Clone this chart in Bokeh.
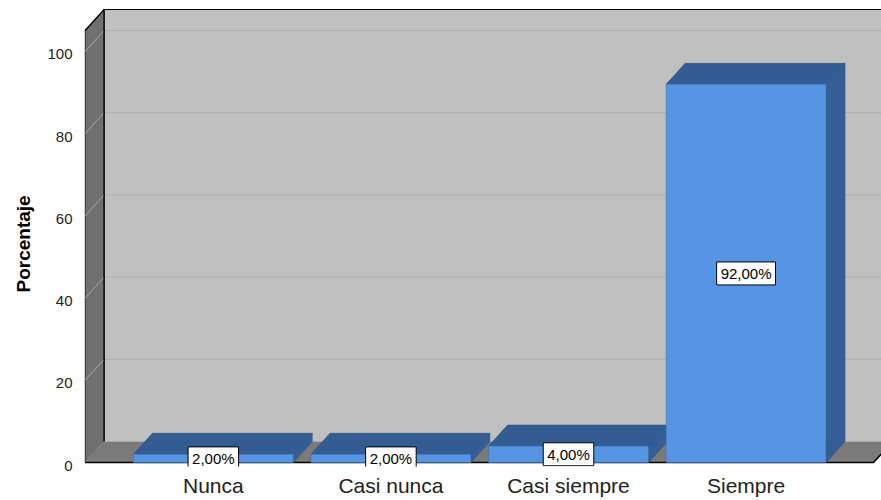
from bokeh.plotting import figure
from bokeh.models import Range1d, FixedTicker, Title
from bokeh.embed import file_html
from bokeh.resources import INLINE

# Data
categories = ["Nunca", "Casi nunca", "Casi siempre", "Siempre"]
percentages = [2.0, 2.0, 4.0, 92.0]
y_ticks = [0, 20, 40, 60, 80, 100]

# 3D box geometry (data units): depth offset of the back plane
DX = 0.107
DY = 5.11
BAR_HALF = 0.45
WALL_X = -0.722
FLOOR_END = 3.718
WALL_TOP = 105.1
TICK_SHIFT = 0.73  # tick labels sit slightly below their gridlines

FONT = "Liberation Sans"
TEXT_COLOR = "#222222"

Y0, Y1 = -0.97, 112.4
p = figure(width=881, height=500, output_backend="svg", toolbar_location=None,
           x_range=Range1d(-0.7255, 3.7627), y_range=Range1d(Y0, Y1),
           min_border_left=83, min_border_right=0, min_border_top=0,
           min_border_bottom=34)
p.extra_y_ranges = {"ticks": Range1d(Y0 + TICK_SHIFT, Y1 + TICK_SHIFT)}
p.outline_line_color = None
p.grid.visible = False
p.background_fill_color = "white"
p.border_fill_color = "white"

# back wall
bx0, bx1 = WALL_X + DX, FLOOR_END + DX
p.patch([bx0, bx1, bx1, bx0], [DY, DY, WALL_TOP + DY, WALL_TOP + DY],
        fill_color="#c0c0c0", line_color=None)
# gridlines on the back wall
for t in y_ticks[1:]:
    p.line([bx0, bx1], [t + DY, t + DY], line_color="#acacac", line_width=1)
p.line([bx0, bx1], [WALL_TOP + DY, WALL_TOP + DY], line_color="black", line_width=1.2)

# left wall
p.patch([WALL_X, bx0, bx0, WALL_X], [0, DY, WALL_TOP + DY, WALL_TOP],
        fill_color="#707070", line_color="#1a1a1a", line_width=1)
for t in y_ticks:
    p.line([WALL_X, bx0], [t, t + DY], line_color="#a8a8a8", line_width=1)
p.line([bx0, bx0], [DY, WALL_TOP + DY], line_color="black", line_width=1.2)
p.line([WALL_X, bx0], [WALL_TOP, WALL_TOP + DY], line_color="black", line_width=1.2)

# floor
p.patch([WALL_X, FLOOR_END, FLOOR_END + DX, bx0], [0, 0, DY, DY],
        fill_color="#7a7a7a", line_color=None)
p.line([WALL_X, FLOOR_END, FLOOR_END + DX], [0, 0, DY], line_color="black", line_width=1.5)

# bars
idx = list(range(len(categories)))
lefts = [i - BAR_HALF for i in idx]
rights = [i + BAR_HALF for i in idx]

side_xs = [[r, r + DX, r + DX, r] for r in rights]
side_ys = [[0, DY, v + DY, v] for v in percentages]
p.patches(side_xs, side_ys, fill_color="#345e95", line_color="#2c5080", line_width=0.6)

top_xs = [[l, r, r + DX, l + DX] for l, r in zip(lefts, rights)]
top_ys = [[v, v, v + DY, v + DY] for v in percentages]
p.patches(top_xs, top_ys, fill_color="#335c92", line_color="#2c5080", line_width=0.6)

p.quad(left=lefts, right=rights, bottom=0, top=percentages,
       fill_color="#5595e4", line_color="#3d70b0", line_width=0.6)

# value labels
labels = [f"{v:.2f}".replace(".", ",") + "%" for v in percentages]
p.text(x=idx, y=[v / 2 for v in percentages], text=labels,
       text_align="center", text_baseline="middle",
       text_font_size="15px", text_font={"value": FONT}, text_color="black",
       background_fill_color="white", border_line_color="black",
       border_line_width=1, padding=(4, 3))

# axes
p.yaxis.y_range_name = "ticks"
p.yaxis.ticker = FixedTicker(ticks=y_ticks)
p.yaxis.axis_line_color = None
p.yaxis.major_tick_line_color = None
p.yaxis.minor_tick_line_color = None
p.yaxis.major_label_standoff = 6
p.yaxis.major_label_text_font = FONT
p.yaxis.major_label_text_font_size = "15px"
p.yaxis.major_label_text_color = TEXT_COLOR

p.xaxis.ticker = FixedTicker(ticks=idx)
p.xaxis.major_label_overrides = {i: c for i, c in zip(idx, categories)}
p.xaxis.axis_line_color = None
p.xaxis.major_tick_line_color = None
p.xaxis.minor_tick_line_color = None
p.xaxis.major_label_standoff = 1
p.xaxis.major_label_text_font = FONT
p.xaxis.major_label_text_font_size = "21px"
p.xaxis.major_label_text_color = TEXT_COLOR

p.add_layout(Title(text="Porcentaje", align="left", offset=174, standoff=21,
                   text_font=FONT, text_font_size="19px", text_font_style="bold",
                   text_color="black"), "left")

open("out.html", "w").write(file_html(p, INLINE))
